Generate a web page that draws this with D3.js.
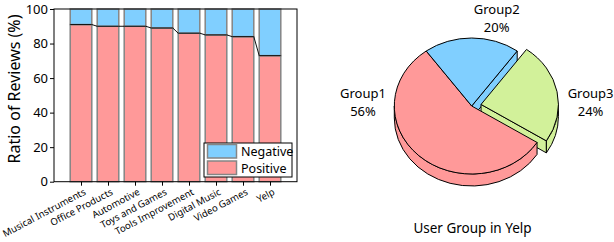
<!DOCTYPE html>
<html><head><meta charset="utf-8">
<script src="https://cdn.jsdelivr.net/npm/d3@7"></script>
<style>
body{margin:0;background:#fff}
svg{display:block}
text{font-family:"Noto Sans",sans-serif;fill:#000}
</style>
</head><body>
<svg id="c" width="614" height="242"></svg>
<script>
// ---------- data ----------
const categories = ["Musical Instruments","Office Products","Automotive","Toys and Games","Tools Improvement","Digital Music","Video Games","Yelp"];
const positive = [91, 90, 90, 89, 86, 85, 84, 73];
const negative = [9, 10, 10, 11, 14, 15, 16, 27];
const yTicks = [0, 20, 40, 60, 80, 100];
const seriesNames = ["Negative", "Positive"];
const groups = ["Group1", "Group2", "Group3"];
const shares = [56, 20, 24];
const exploded = [false, false, true];

const colPos = "#ff9999", colNeg = "#80cfff";
const pieColors = ["#ff9999", "#80cfff", "#d2f19a"];

const svg = d3.select("#c");

// ---------- bar chart ----------
const L = 54, R = 297, T = 9, B = 181.7;
const x = d3.scaleLinear().domain([0, categories.length + 1]).range([L, R]);
const y = d3.scaleLinear().domain([0, 100]).range([B, T]);
const bw = x(0.8) - x(0);

const gBars = svg.append("g");
categories.forEach((c, i) => {
  const cxp = x(i + 1);
  gBars.append("rect").attr("x", cxp - bw/2).attr("width", bw)
    .attr("y", y(positive[i])).attr("height", y(0) - y(positive[i]))
    .attr("fill", colPos).attr("stroke", "#858585").attr("stroke-width", 1.5);
  gBars.append("rect").attr("x", cxp - bw/2).attr("width", bw)
    .attr("y", y(positive[i] + negative[i])).attr("height", y(positive[i]) - y(positive[i] + negative[i]))
    .attr("fill", colNeg).attr("stroke", "#858585").attr("stroke-width", 1.5);
});
// connecting line across the tops of the positive segments
const pts = [];
categories.forEach((c, i) => { pts.push([x(i+1) - bw/2, y(positive[i])]); pts.push([x(i+1) + bw/2, y(positive[i])]); });
gBars.append("path").attr("d", d3.line()(pts)).attr("fill", "none").attr("stroke", "#111").attr("stroke-width", 1);

// frame
svg.append("rect").attr("x", L).attr("y", T).attr("width", R - L).attr("height", B - T)
  .attr("fill", "none").attr("stroke", "#000").attr("stroke-width", 1);

// y axis
const yAx = svg.append("g").attr("transform", `translate(${L},0)`)
  .call(d3.axisLeft(y).tickValues(yTicks).tickSize(4).tickPadding(2));
yAx.select(".domain").remove();
yAx.selectAll("text").attr("font-size", 13).style("font-family", '"Noto Sans",sans-serif');
yAx.selectAll("line").attr("stroke", "#000");

// x axis
const xAx = svg.append("g").attr("transform", `translate(0,${B})`)
  .call(d3.axisBottom(x).tickValues(d3.range(1, categories.length + 1)).tickSize(4).tickFormat(""));
xAx.select(".domain").remove();
xAx.selectAll("line").attr("stroke", "#000");
categories.forEach((c, i) => {
  svg.append("text").attr("text-anchor", "end").attr("font-size", 9.6)
    .attr("transform", `translate(${x(i+1) + 5.5},${194}) rotate(-28)`).text(c);
});

// y label
svg.append("text").attr("text-anchor", "middle").attr("font-size", 16)
  .attr("transform", `translate(20,89) rotate(-90)`).text("Ratio of Reviews (%)");

// legend
const lg = svg.append("g");
lg.append("rect").attr("x", 204).attr("y", 143).attr("width", 88).attr("height", 34)
  .attr("fill", "#fff").attr("stroke", "#000").attr("stroke-width", 1);
[colNeg, colPos].forEach((col, k) => {
  lg.append("rect").attr("x", 207.5).attr("y", 144.5 + k*16.5).attr("width", 29).attr("height", 13.5)
    .attr("fill", col).attr("stroke", "#858585").attr("stroke-width", 1.5);
  lg.append("text").attr("x", 241).attr("y", 156 + k*16.5).attr("font-size", 12.5).text(seriesNames[k]);
});

// ---------- 3D pie ----------
const pcx = 471.7, pcy = 106, rx = 77.4, ry = 68, th = 12, expl = 9.5;
const start = 122.4 * Math.PI / 180;
const pie = d3.pie().sort(null).value(d => d).startAngle(start).endAngle(start + 2*Math.PI);
const arcs = pie(shares);
const PI = Math.PI;

function off(d, i) {
  if (!exploded[i]) return [0, 0];
  const m = (d.startAngle + d.endAngle) / 2;
  return [expl * Math.sin(m), -expl * Math.cos(m) * ry / rx];
}
function P(a, o, dy) { return [pcx + o[0] + rx*Math.sin(a), pcy + o[1] - ry*Math.cos(a) + (dy||0)]; }
const f = p => p[0].toFixed(2) + "," + p[1].toFixed(2);

const gp = svg.append("g").attr("stroke", "#000").attr("stroke-width", 1).attr("stroke-linejoin", "round");

// radial faces
arcs.forEach((d, i) => {
  const o = off(d, i);
  const c0 = [pcx + o[0], pcy + o[1]];
  const faces = [];
  if (Math.sin(d.endAngle) > 0.01) faces.push(d.endAngle);
  if (Math.sin(d.startAngle) < -0.01) faces.push(d.startAngle);
  faces.forEach(a => {
    const p = P(a, o);
    gp.append("path").attr("fill", pieColors[i])
      .attr("d", `M${f(c0)}L${f(p)}L${f([p[0], p[1]+th])}L${f([c0[0], c0[1]+th])}Z`);
  });
});
// side walls (front half only)
arcs.forEach((d, i) => {
  const o = off(d, i);
  [0, 1].forEach(k => {
    const s = Math.max(d.startAngle, PI/2 + k*2*PI), e = Math.min(d.endAngle, 3*PI/2 + k*2*PI);
    if (e - s <= 0.001) return;
    gp.append("path").attr("fill", pieColors[i])
      .attr("d", `M${f(P(s,o))}A${rx},${ry} 0 0 1 ${f(P(e,o))}L${f(P(e,o,th))}A${rx},${ry} 0 0 0 ${f(P(s,o,th))}Z`);
  });
});
// top faces
arcs.forEach((d, i) => {
  const o = off(d, i);
  const c0 = [pcx + o[0], pcy + o[1]];
  const large = (d.endAngle - d.startAngle) > PI ? 1 : 0;
  gp.append("path").attr("fill", pieColors[i])
    .attr("d", `M${f(c0)}L${f(P(d.startAngle,o))}A${rx},${ry} 0 ${large} 1 ${f(P(d.endAngle,o))}Z`);
});

// pie labels
const labelPos = [[363, 98], [496.7, 14], [590.6, 98]];
groups.forEach((g, i) => {
  const t = svg.append("text").attr("text-anchor", "middle").attr("font-size", 13);
  t.append("tspan").attr("x", labelPos[i][0]).attr("y", labelPos[i][1]).text(g);
  t.append("tspan").attr("x", labelPos[i][0]).attr("y", labelPos[i][1] + 17.5).text(shares[i] + "%");
});
svg.append("text").attr("text-anchor", "middle").attr("font-size", 13.5)
  .attr("x", 472.5).attr("y", 233).text("User Group in Yelp");
</script>
</body></html>
